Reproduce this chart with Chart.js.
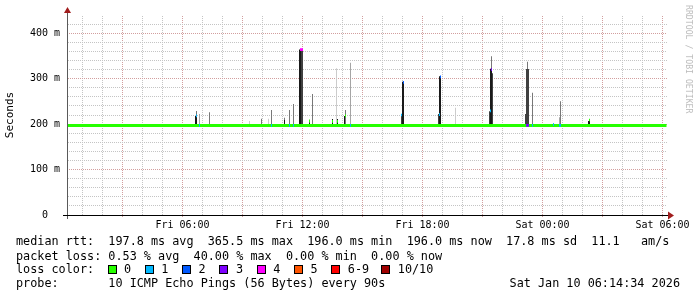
<!DOCTYPE html>
<html>
<head>
<meta charset="utf-8">
<script src="https://cdn.jsdelivr.net/npm/chart.js@4.4.1/dist/chart.umd.min.js"></script>
<style>
  body { margin: 0; background: #fff; }
  #wrap { position: relative; width: 697px; height: 297px; background: #fff; overflow: hidden; font-family: "DejaVu Sans Mono", monospace; }
  #chart { position: absolute; left: 0; top: 0; }
  .line { position: absolute; left: 16px; font-size: 11.8px; line-height: 14px; white-space: pre; color: #000; }
  .box { position: absolute; width: 7px; height: 7px; border: 1px solid #000; }
  #credit { position: absolute; left: 693px; top: 5px; font-size: 8.2px; line-height: 9px; color: #bcbcbc; white-space: pre; transform-origin: 0 0; transform: rotate(90deg); }
</style>
</head>
<body>
<div id="wrap">
  <canvas id="chart" width="697" height="235"></canvas>
  <div id="credit">RRDTOOL / TOBI OETIKER</div>
  <div class="line" style="top:234px">median rtt:  197.8 ms avg  365.5 ms max  196.0 ms min  196.0 ms now  17.8 ms sd  11.1   am/s</div>
  <div class="line" style="top:249px">packet loss: 0.53 % avg  40.00 % max  0.00 % min  0.00 % now</div>
  <div class="line" id="lossrow" style="top:262px">loss color:</div>
  <div class="line" style="top:276px">probe:       10 ICMP Echo Pings (56 Bytes) every 90s</div>
  <div class="line" style="top:276px;left:auto;right:17px">Sat Jan 10 06:14:34 2026</div>
</div>
<script>
// time axis: hours since Fri 00:00, window ends Sat 06:14
const X_MIN = 0.225;
const X_MAX = 30.225;
const xLabelHours = [6, 12, 18, 24, 30];
const xLabels = ["Fri 06:00", "Fri 12:00", "Fri 18:00", "Sat 00:00", "Sat 06:00"];
const yLabelValues = [0, 100, 200, 300, 400];
const yLabels = ["0  ", "100 m", "200 m", "300 m", "400 m"];

// median rtt (ms)
const medianTimes = [0.225, 30.2];
const medianRtt = [197, 197];

// smoke columns [hour, low ms, high ms], grouped by density
const smokeLight = [[9.35, 196, 207], [10.30, 196, 212], [13.70, 196, 323], [19.65, 196, 236], [26.80, 196, 200]];
const smokePale = [[6.85, 196, 222], [14.40, 196, 335], [24.85, 196, 215]];
const smokeMid = [
  [6.70, 196, 229], [7.35, 196, 226], [9.95, 196, 212], [10.45, 196, 231], [11.10, 196, 214],
  [11.35, 196, 231], [11.55, 196, 244], [12.50, 196, 266], [14.15, 196, 231], [21.45, 196, 349],
  [23.25, 196, 337], [23.50, 196, 269], [24.90, 196, 250]
];
const smokeDark = [
  [11.95, 196, 362], [12.00, 196, 362], [16.95, 196, 218], [18.80, 196, 222], [21.35, 196, 228],
  [21.50, 196, 312], [23.15, 196, 222], [23.20, 196, 321], [23.25, 196, 321], [23.30, 196, 321]
];
const smokeBlack = [
  [6.65, 196, 218], [6.70, 196, 218], [11.10, 196, 209], [11.85, 196, 364], [11.90, 196, 364],
  [12.35, 196, 204], [13.50, 196, 211], [13.75, 196, 211], [14.10, 196, 218], [17.00, 196, 293],
  [17.05, 196, 293], [18.85, 196, 305], [18.90, 196, 305], [21.40, 196, 322], [21.45, 196, 322],
  [23.85, 196, 199], [24.55, 196, 201], [26.30, 196, 207], [26.35, 196, 207]
];

// median marks coloured by lost pings [hour, ms, lost]
const lossMarks = [
  [6.70, 218, 1], [6.85, 197, 1], [10.45, 197, 1], [11.35, 197, 1], [11.55, 197, 1],
  [11.90, 364, 4], [11.95, 364, 4], [12.00, 364, 4], [12.35, 207, 0], [13.50, 206, 0],
  [13.75, 206, 0], [14.15, 218, 0], [14.40, 197, 1], [16.95, 220, 1], [17.05, 292, 2],
  [18.85, 221, 1], [18.90, 304, 2], [21.40, 229, 1], [21.45, 320, 3], [23.20, 197, 3],
  [23.25, 197, 3], [23.30, 197, 3], [23.50, 197, 1], [24.55, 199, 1], [24.85, 197, 1],
  [24.90, 197, 1], [26.35, 209, 0]
];

const lossLabels = ["0", "1", "2", "3", "4", "5", "6-9", "10/10"];
const lossColors = ["#26ff00", "#00b8ff", "#0059ff", "#7e00ff", "#ff00ff", "#ff5500", "#ff0000", "#a00000"];
const lossIndex = [0, 1, 2, 3, 4, 5, 6, 6, 6, 6, 7];

const FONT = "DejaVu Sans Mono";
const canvas = document.getElementById("chart");

// rrdtool style dotted grid: every other pixel
function dotPattern(color) {
  const c = document.createElement("canvas");
  c.width = 2;
  c.height = 2;
  const g = c.getContext("2d");
  g.fillStyle = color;
  g.fillRect(0, 0, 1, 1);
  g.fillRect(1, 1, 1, 1);
  return canvas.getContext("2d").createPattern(c, "repeat");
}
const GRID = dotPattern("rgb(196,196,196)");
const MGRID = dotPattern("rgb(210,158,158)");

// legend row of loss colours
const row = document.getElementById("lossrow");
const boxSteps = [37.3, 37.3, 37.3, 37.3, 37.3, 37.3, 50, 0];
let bx = 91.5;
lossLabels.forEach((label, i) => {
  const box = document.createElement("span");
  box.className = "box";
  box.style.left = bx + "px";
  box.style.top = "3px";
  box.style.background = lossColors[i];
  row.appendChild(box);
  const txt = document.createElement("span");
  txt.style.position = "absolute";
  txt.style.left = (bx + 16.5) + "px";
  txt.style.top = "0px";
  txt.textContent = label;
  row.appendChild(txt);
  bx += boxSteps[i];
});

function smokeSet(rows, color, order) {
  return {
    type: "bar",
    data: rows.map((r) => ({ x: r[0], y: [r[1], r[2]] })),
    backgroundColor: color,
    borderWidth: 0,
    barThickness: 1,
    grouped: false,
    inflateAmount: 0,
    order
  };
}

const axesPlugin = {
  id: "rrdAxes",
  afterDraw(chart) {
    const { ctx, chartArea } = chart;
    const b = Math.round(chartArea.bottom);
    const l = Math.round(chartArea.left);
    const r = Math.round(chartArea.right);
    ctx.save();
    ctx.fillStyle = "#5a5a5a";
    ctx.fillRect(l, 11, 1, b - 11 + 4);
    ctx.fillStyle = "#000";
    ctx.fillRect(l - 4, b, r - l + 8, 1);
    ctx.fillStyle = "#a11d1d";
    ctx.beginPath();
    ctx.moveTo(l - 3, 13);
    ctx.lineTo(l + 4, 13);
    ctx.lineTo(l + 0.5, 7);
    ctx.closePath();
    ctx.fill();
    ctx.beginPath();
    ctx.moveTo(r + 1, b - 3.5);
    ctx.lineTo(r + 1, b + 4.5);
    ctx.lineTo(r + 7, b + 0.5);
    ctx.closePath();
    ctx.fill();
    ctx.restore();
  }
};

new Chart(canvas, {
  type: "bar",
  data: {
    datasets: [
      smokeSet(smokeLight, "#cccccc", 7),
      smokeSet(smokePale, "#a5a5a5", 6),
      smokeSet(smokeMid, "#787878", 5),
      smokeSet(smokeDark, "#404040", 4),
      smokeSet(smokeBlack, "#1a1a1a", 3),
      {
        type: "line",
        data: medianTimes.map((t, i) => ({ x: t, y: medianRtt[i] })),
        borderColor: lossColors[0],
        borderWidth: 3,
        pointRadius: 0,
        order: 2
      },
      {
        type: "bar",
        data: lossMarks.map((m) => ({ x: m[0], y: [m[1] - 3, m[1] + 3] })),
        backgroundColor: lossMarks.map((m) => lossColors[lossIndex[m[2]]]),
        borderWidth: 0,
        barThickness: 1,
        grouped: false,
        inflateAmount: 0,
        order: 1
      }
    ]
  },
  options: {
    responsive: false,
    animation: false,
    devicePixelRatio: 1,
    layout: { padding: { left: 0, right: 30, top: 15, bottom: 0 } },
    plugins: { legend: { display: false }, tooltip: { enabled: false } },
    scales: {
      x: {
        type: "linear",
        min: X_MIN,
        max: X_MAX,
        offset: false,
        grid: {
          offset: false,
          lineWidth: 1,
          color: (c) => (c.tick && c.tick.value % 3 === 0 ? MGRID : GRID),
          drawTicks: true,
          tickLength: 3,
          tickWidth: 1,
          tickColor: (c) => (c.tick && c.tick.value % 3 === 0 ? MGRID : "rgba(0,0,0,0)")
        },
        border: { display: false },
        ticks: {
          autoSkip: false,
          maxRotation: 0,
          minRotation: 0,
          padding: 1,
          color: "#000",
          font: { family: FONT, size: 10 },
          callback: (v) => {
            const i = xLabelHours.indexOf(v);
            return i >= 0 ? xLabels[i] : "";
          }
        },
        afterBuildTicks: (s) => {
          const t = [];
          for (let h = 1; h <= 30; h += 1) t.push({ value: h });
          s.ticks = t;
        },
        afterFit: (s) => {
          s.height = 20;
          s.paddingLeft = 0;
          s.paddingRight = 0;
        }
      },
      y: {
        min: 0,
        max: 440,
        grid: {
          lineWidth: 1,
          drawTicks: false,
          color: (c) => (c.tick && c.tick.value % 100 === 0 ? MGRID : GRID)
        },
        border: { display: false },
        ticks: {
          autoSkip: false,
          padding: 7,
          color: "#000",
          font: { family: FONT, size: 10 },
          callback: (v) => {
            const i = yLabelValues.indexOf(v);
            return i >= 0 ? yLabels[i] : "";
          }
        },
        title: {
          display: true,
          text: "Seconds",
          color: "#000",
          font: { family: FONT, size: 11 },
          padding: { top: 4, bottom: 0 }
        },
        afterBuildTicks: (s) => {
          const t = [];
          for (let v = 0; v <= 420; v += 20) t.push({ value: v });
          s.ticks = t;
        },
        afterFit: (s) => {
          s.width = 67;
          s.paddingTop = 0;
          s.paddingBottom = 0;
        }
      }
    }
  },
  plugins: [axesPlugin]
});
</script>
</body>
</html>
